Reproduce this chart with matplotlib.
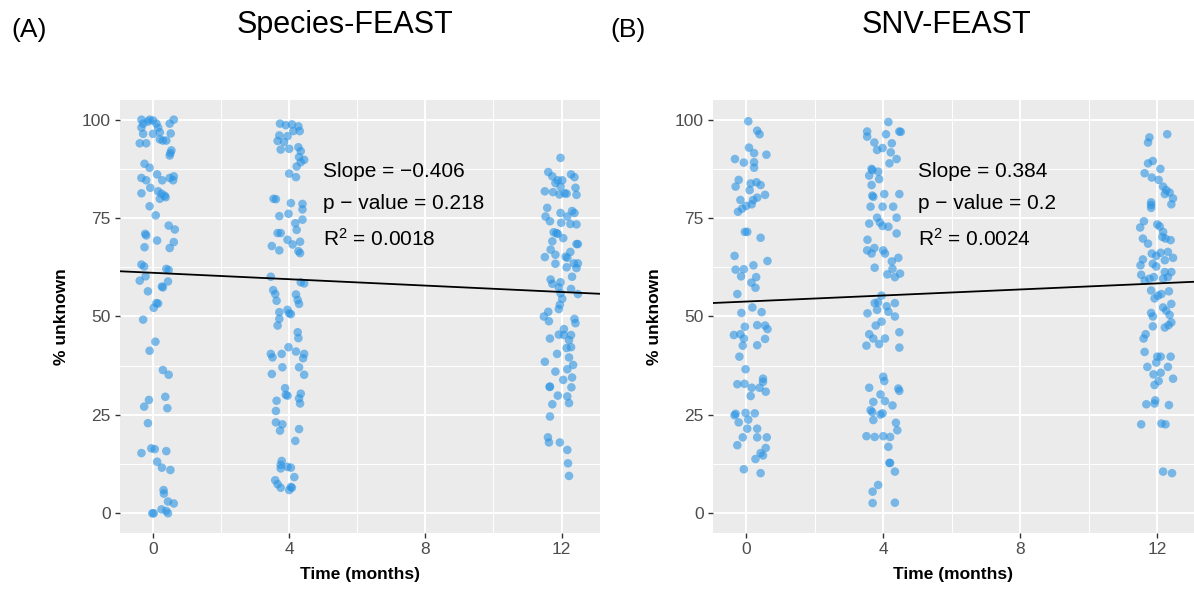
import matplotlib
matplotlib.use("Agg")
import matplotlib.pyplot as plt
import numpy as np

plt.rcParams["font.family"] = ["Liberation Sans", "DejaVu Sans"]
plt.rcParams["mathtext.fontset"] = "custom"
plt.rcParams["mathtext.rm"] = "Liberation Sans"
plt.rcParams["mathtext.it"] = "Liberation Sans:italic"

# ---------------- data ----------------
times = [0, 4, 12]
x_ticks = [0, 4, 8, 12]
y_ticks = [0, 25, 50, 75, 100]

# Panel A: Species-FEAST, % unknown per sample (dx = horizontal jitter)
a0_dx = [-0.34, -0.29, -0.10, 0.00, -0.15, 0.10, 0.15, -0.34, 0.00, -0.29, 0.20, 0.29, 0.49, 0.61, 0.52,
         -0.39, -0.20, 0.20, 0.39, 0.54, 0.51, 0.49, -0.25, -0.10, -0.34, -0.20, 0.12, 0.27, 0.49, 0.61,
         0.59, -0.08, -0.34, 0.15, 0.25, 0.34, 0.20, 0.37, -0.10, 0.08, 0.46, 0.64, -0.23, -0.20, 0.12,
         0.61, -0.25, 0.49, -0.34, -0.26, 0.39, 0.46, -0.39, -0.22, 0.26, 0.29, 0.44, -0.15, 0.10, 0.15,
         0.02, -0.29, 0.07, -0.10, 0.29, 0.46, -0.12, -0.26, 0.36, 0.42, -0.15, -0.05, 0.05, -0.34, 0.39,
         0.12, 0.26, 0.51, 0.31, 0.32, 0.44, 0.61, 0.25, 0.39, -0.02, 0.02, 0.44]
a0_y = [100, 99, 100, 99.8, 99.5, 99, 98, 98, 96.4, 96.4, 96.8, 94.7, 99, 100, 96.5,
        94, 94, 95, 94.7, 92.2, 91.5, 90.9, 88.8, 87.8, 85.2, 84.6, 86.1, 84.6, 85.2, 85.6,
        84.6, 82.7, 81.3, 81.8, 81.2, 80.7, 79.9, 80.3, 78.0, 75.7, 73.1, 72.1, 71.0, 70.6, 69.3,
        68.9, 67.6, 67.4, 63.2, 62.7, 62.1, 61.8, 59.1, 60.2, 57.6, 57.4, 58.9, 56.4, 53.4, 53.3,
        52.2, 49.2, 43.6, 41.3, 36.4, 35.2, 28.8, 27.1, 29.6, 26.7, 22.9, 16.5, 16.3, 15.3, 15.8,
        13.1, 11.6, 11.0, 5.9, 5.0, 3.0, 2.5, 1.0, 0.6, 0, 0, 0]

a4_dx = [-0.27, -0.10, 0.08, 0.27, 0.31, 0.12, -0.29, -0.05, -0.34, -0.15, -0.25, 0.00, 0.27, 0.34, 0.29,
         0.44, 0.34, 0.22, 0.00, 0.20, -0.46, -0.39, 0.05, 0.39, 0.39, -0.29, -0.02, 0.39, 0.18, -0.34,
         -0.25, 0.22, -0.51, -0.05, 0.10, 0.32, -0.29, 0.27, 0.32, -0.54, 0.34, 0.44, -0.47, -0.41, 0.20,
         -0.37, 0.25, 0.29, -0.29, -0.05, 0.05, 0.00, -0.29, -0.34, 0.25, 0.27, -0.02, 0.20, -0.54, -0.22,
         -0.49, 0.44, 0.41, -0.20, 0.29, -0.51, 0.44, -0.12, -0.10, -0.05, 0.34, 0.29, -0.37, 0.32, -0.39,
         -0.39, -0.20, -0.27, 0.29, 0.18, -0.22, -0.25, -0.05, 0.05, -0.25, 0.15, -0.41, -0.34, -0.25, 0.05,
         0.00, 0.08]
a4_y = [99.0, 98.6, 98.8, 98.3, 97.1, 97.1, 96.0, 95.8, 94.6, 94.3, 92.4, 92.6, 93.0, 92.0, 90.5,
        89.8, 89.2, 88.1, 86.3, 85.4, 79.9, 79.8, 78.8, 78.6, 77.2, 75.5, 76.1, 74.6, 73.7, 71.2,
        71.2, 72.0, 67.9, 69.5, 68.3, 69.0, 66.8, 66.6, 66.1, 60.1, 58.7, 58.4, 56.7, 55.7, 55.6,
        54.0, 54.2, 53.2, 51.1, 51.7, 50.6, 50.8, 49.4, 47.7, 46.0, 44.5, 42.2, 41.1, 40.5, 40.5,
        39.6, 40.5, 39.4, 37.1, 37.1, 35.4, 35.2, 31.8, 30.1, 29.9, 30.4, 29.2, 28.6, 27.9, 26.0,
        23.1, 22.6, 21.0, 21.4, 18.4, 13.3, 12.3, 11.8, 11.6, 11.4, 9.2, 8.4, 7.4, 6.5, 6.7,
        5.9, 6.5]

a12_dx = [-0.03, -0.39, -0.27, 0.28, 0.38, -0.11, -0.18, 0.02, -0.03, -0.49, -0.25, -0.06, 0.09, 0.15, 0.41,
          0.44, -0.42, -0.47, -0.34, -0.03, 0.17, 0.31, 0.38, -0.01, 0.26, 0.44, -0.23, -0.15, -0.11, 0.05,
          -0.27, -0.32, -0.18, 0.44, 0.48, 0.26, 0.12, 0.17, 0.36, 0.48, -0.49, -0.18, 0.15, 0.44, 0.31,
          -0.32, -0.27, -0.03, -0.08, 0.28, 0.48, -0.03, 0.02, -0.05, -0.08, -0.39, -0.52, -0.37, 0.38, 0.41,
          0.07, -0.08, 0.07, 0.28, -0.34, 0.22, 0.15, 0.28, -0.13, 0.22, -0.49, 0.34, -0.18, 0.17, 0.05,
          0.31, -0.34, -0.35, 0.29, -0.11, 0.17, -0.27, 0.22, -0.34, -0.40, -0.37, -0.05, 0.17, 0.19, 0.22]
a12_y = [90.3, 86.7, 85.6, 86.1, 85.4, 84.6, 83.9, 84.6, 83.0, 81.8, 81.6, 81.0, 81.3, 81.2, 82.7,
         80.9, 77.6, 75.4, 74.2, 76.3, 75.4, 76.8, 76.3, 73.8, 73.5, 73.4, 71.4, 71.2, 71.0, 69.9,
         69.1, 67.0, 65.7, 68.4, 68.4, 66.4, 65.2, 64.9, 63.5, 63.5, 65.1, 63.4, 62.5, 62.3, 60.1,
         59.4, 58.3, 58.7, 57.4, 57.0, 55.7, 55.9, 54.5, 53.0, 51.9, 51.2, 50.0, 48.8, 49.4, 48.3,
         46.8, 45.4, 45.3, 45.3, 44.4, 44.0, 42.0, 42.2, 40.5, 39.6, 38.5, 37.7, 36.0, 36.6, 33.9,
         34.5, 32.2, 32.1, 32.0, 29.9, 29.7, 27.7, 28.0, 24.6, 19.3, 18.0, 18.0, 16.1, 12.7, 9.5]

# Panel B: SNV-FEAST
b0_dx = [0.06, 0.32, 0.39, 0.08, 0.23, 0.59, -0.33, -0.07, 0.23, 0.23, -0.22, -0.31, 0.13, 0.30, 0.42,
         0.10, 0.32, 0.55, -0.17, -0.24, -0.12, 0.00, 0.16, 0.20, -0.04, 0.03, 0.42, -0.34, 0.62, -0.31,
         -0.07, 0.21, -0.15, 0.29, 0.15, 0.27, -0.26, -0.14, 0.18, 0.45, 0.32, 0.55, 0.62, -0.04, -0.36,
         -0.17, -0.07, -0.10, 0.32, 0.55, -0.20, -0.02, -0.26, -0.05, 0.49, 0.49, 0.16, 0.39, 0.57, 0.13,
         -0.31, -0.34, -0.02, 0.25, -0.22, 0.06, 0.03, 0.32, -0.10, 0.32, 0.60, -0.26, 0.57, 0.42, 0.49,
         0.27, -0.07, 0.42]
b0_y = [99.6, 97.2, 96.3, 92.9, 91.5, 91.1, 90.0, 89.1, 89.2, 87.8, 84.7, 83.0, 83.8, 84.1, 83.4,
        82.1, 80.2, 80.9, 79.6, 76.6, 77.4, 78.1, 78.5, 79.6, 71.5, 71.5, 70.0, 65.4, 64.1, 61.9,
        62.0, 63.0, 60.2, 60.0, 58.6, 57.3, 55.7, 50.9, 52.3, 51.1, 47.8, 47.7, 46.8, 47.4, 45.3,
        45.5, 44.4, 42.6, 42.7, 44.3, 39.8, 36.6, 32.8, 32.9, 34.2, 33.4, 31.9, 31.9, 30.9, 29.8,
        25.3, 24.9, 25.5, 25.4, 23.1, 23.8, 21.5, 21.5, 19.3, 19.3, 19.3, 17.3, 16.6, 15.3, 14.7,
        13.8, 11.2, 10.2]

b4_dx = [0.15, -0.47, -0.47, 0.08, 0.47, 0.51, -0.26, -0.02, 0.25, -0.18, 0.22, 0.39, 0.18, -0.34, -0.32,
         -0.15, -0.41, -0.12, -0.34, -0.32, -0.29, 0.03, 0.47, -0.37, -0.02, 0.29, 0.39, -0.18, -0.41, -0.10,
         -0.02, 0.15, 0.39, -0.46, -0.26, -0.47, -0.34, 0.00, 0.05, 0.25, 0.44, -0.25, 0.27, 0.12, 0.49,
         0.34, -0.05, -0.15, -0.25, 0.34, -0.46, -0.18, 0.10, 0.15, 0.34, -0.22, -0.05, -0.41, -0.29, -0.12,
         0.05, 0.47, -0.49, 0.47, 0.00, 0.03, -0.41, -0.08, 0.44, 0.47, -0.29, 0.05, 0.27, -0.37, -0.32,
         -0.02, -0.08, -0.29, 0.37, 0.41, -0.49, -0.25, 0.00, 0.20, 0.15, 0.18, 0.20, 0.34, -0.15, -0.31,
         -0.31, 0.34]
b4_y = [99.4, 97.0, 95.7, 96.3, 97.0, 96.9, 94.2, 92.8, 94.0, 92.3, 91.7, 90.0, 88.9, 87.5, 87.2,
        86.8, 85.8, 84.9, 83.4, 80.7, 80.4, 81.1, 81.1, 77.9, 77.9, 77.9, 75.1, 75.1, 73.6, 73.9,
        73.0, 72.8, 71.1, 69.5, 67.4, 66.8, 66.0, 66.8, 66.0, 64.0, 64.9, 62.4, 62.1, 60.7, 60.9,
        60.0, 55.3, 53.6, 53.4, 53.4, 50.8, 51.7, 52.6, 51.2, 50.0, 47.7, 48.7, 45.5, 44.4, 43.0,
        44.4, 46.0, 42.6, 42.1, 34.7, 33.6, 31.9, 30.2, 31.7, 31.1, 28.3, 28.5, 27.4, 26.2, 25.7,
        25.4, 25.1, 23.7, 23.0, 21.1, 19.6, 19.4, 19.6, 19.4, 16.9, 12.8, 12.8, 10.6, 7.2, 5.5,
        2.6, 2.7]

b12_dx = [0.29, -0.23, -0.27, -0.27, -0.13, 0.09, -0.37, -0.16, 0.04, 0.17, 0.26, 0.36, 0.22, 0.46, 0.41,
          -0.18, -0.18, -0.18, -0.39, -0.50, 0.00, 0.07, 0.17, 0.15, 0.24, 0.39, -0.42, -0.27, -0.42, -0.49,
          -0.47, -0.16, -0.03, 0.10, 0.31, 0.22, 0.46, -0.13, -0.03, 0.22, 0.41, -0.37, -0.23, -0.10, 0.17,
          0.31, -0.18, -0.08, 0.02, 0.12, 0.34, 0.17, 0.26, 0.41, -0.18, -0.13, 0.36, 0.41, 0.33, 0.22,
          -0.13, -0.34, -0.40, -0.37, 0.00, 0.10, 0.39, -0.03, 0.31, -0.29, -0.11, 0.10, 0.46, 0.04, -0.08,
          -0.32, -0.08, -0.06, 0.34, -0.47, 0.12, 0.24, 0.17, 0.43]
b12_y = [96.3, 95.5, 94.2, 88.9, 89.5, 87.5, 86.4, 85.3, 84.7, 83.0, 82.1, 81.5, 81.1, 80.0, 78.5,
         79.0, 78.3, 77.6, 74.2, 72.6, 73.4, 72.9, 71.5, 70.2, 69.8, 69.4, 69.8, 68.5, 64.5, 63.0,
         60.6, 66.0, 65.4, 66.2, 66.4, 64.3, 64.9, 63.4, 62.7, 61.3, 61.3, 59.1, 59.6, 60.0, 59.6,
         60.0, 56.6, 54.6, 55.3, 55.7, 56.4, 52.3, 51.5, 53.2, 50.9, 50.0, 50.4, 48.5, 47.8, 47.2,
         47.5, 45.5, 44.4, 41.0, 39.8, 39.8, 39.8, 38.3, 37.2, 37.2, 35.3, 35.7, 34.2, 33.6, 32.6,
         27.7, 27.9, 28.7, 27.5, 22.6, 22.8, 22.6, 10.6, 10.2]

panel_a = {"dx": [a0_dx, a4_dx, a12_dx], "y": [a0_y, a4_y, a12_y]}
panel_b = {"dx": [b0_dx, b4_dx, b12_dx], "y": [b0_y, b4_y, b12_y]}

# fitted regression (slope reported in the annotation) and intercepts
slope_a, intercept_a = -0.406, 61.1
slope_b, intercept_b = 0.384, 53.8
stats_a = ["\u22120.406", "0.218", "0.0018"]
stats_b = ["0.384", "0.2", "0.0024"]

titles = ["Species-FEAST", "SNV-FEAST"]
tags = ["(A)", "(B)"]

# ---------------- figure ----------------
W, H = 1194, 589
fig = plt.figure(figsize=(W / 100, H / 100), dpi=100)

PANEL_BG = "#EBEBEB"
POINT_C = "#2b94e4"
TICK_C = "#333333"
LABEL_C = "#4D4D4D"

def px_axes(left, right, top, bottom):
    return fig.add_axes([left / W, 1 - bottom / H, (right - left) / W, (bottom - top) / H])

axes_px = [(120, 600, 100, 533), (713, 1196, 100, 533)]
title_x = [345, 946]
tag_x = [11, 610]
ylab_x = [62, 655]

for i, (panel, slope, intercept, stats) in enumerate(
        [(panel_a, slope_a, intercept_a, stats_a), (panel_b, slope_b, intercept_b, stats_b)]):
    l, r, t, b = axes_px[i]
    ax = px_axes(l, r, t, b)
    ax.set_facecolor(PANEL_BG)
    for s in ax.spines.values():
        s.set_visible(False)
    ax.set_xlim(-0.97, 13.13)
    ax.set_ylim(-5, 105)

    # grid: major + minor, white, under data
    for v in [2, 6, 10]:
        ax.axvline(v, color="white", lw=0.7, zorder=0.5)
    for v in [12.5, 37.5, 62.5, 87.5]:
        ax.axhline(v, color="white", lw=0.7, zorder=0.5)
    for v in x_ticks:
        ax.axvline(v, color="white", lw=1.4, zorder=0.6)
    for v in y_ticks:
        ax.axhline(v, color="white", lw=1.4, zorder=0.6)

    for tm, dx, ys in zip(times, panel["dx"], panel["y"]):
        xs = tm + np.asarray(dx)
        ax.scatter(xs, ys, s=38, color=POINT_C, alpha=0.6, edgecolors="none", zorder=2)

    xx = np.array([-0.97, 13.13])
    ax.plot(xx, intercept + slope * xx, color="black", lw=1.3, zorder=3)

    ax.set_xticks(x_ticks)
    ax.set_yticks(y_ticks)
    ax.tick_params(axis="both", length=3.5, width=1.0, color=TICK_C,
                   labelcolor=LABEL_C, labelsize=12.5, pad=3)

    ax.text(5.0, 86.8, "Slope = " + stats[0], fontsize=15, va="center", ha="left", zorder=4)
    ax.text(5.0, 78.6, "p \u2212 value = " + stats[1], fontsize=15, va="center", ha="left", zorder=4)
    ax.text(5.0, 69.8, "R$^2$ = " + stats[2], fontsize=15, va="center", ha="left", zorder=4)

    # labels and titles
    fig.text(title_x[i] / W, 1 - 25 / H, titles[i], fontsize=22, ha="center", va="center")
    fig.text(tag_x[i] / W, 1 - 30 / H, tags[i], fontsize=19, ha="left", va="center")
    fig.text(ylab_x[i] / W, 1 - ((t + b) / 2) / H, "% unknown", fontsize=12.5,
             fontweight="bold", rotation=90, ha="center", va="center")
    cx = (l + min(r, W)) / 2 if i == 0 else 953
    fig.text(cx / W, 1 - 575 / H, "Time (months)", fontsize=12.5, fontweight="bold",
             ha="center", va="center")

fig.savefig("out.png", dpi=100, facecolor="white")
